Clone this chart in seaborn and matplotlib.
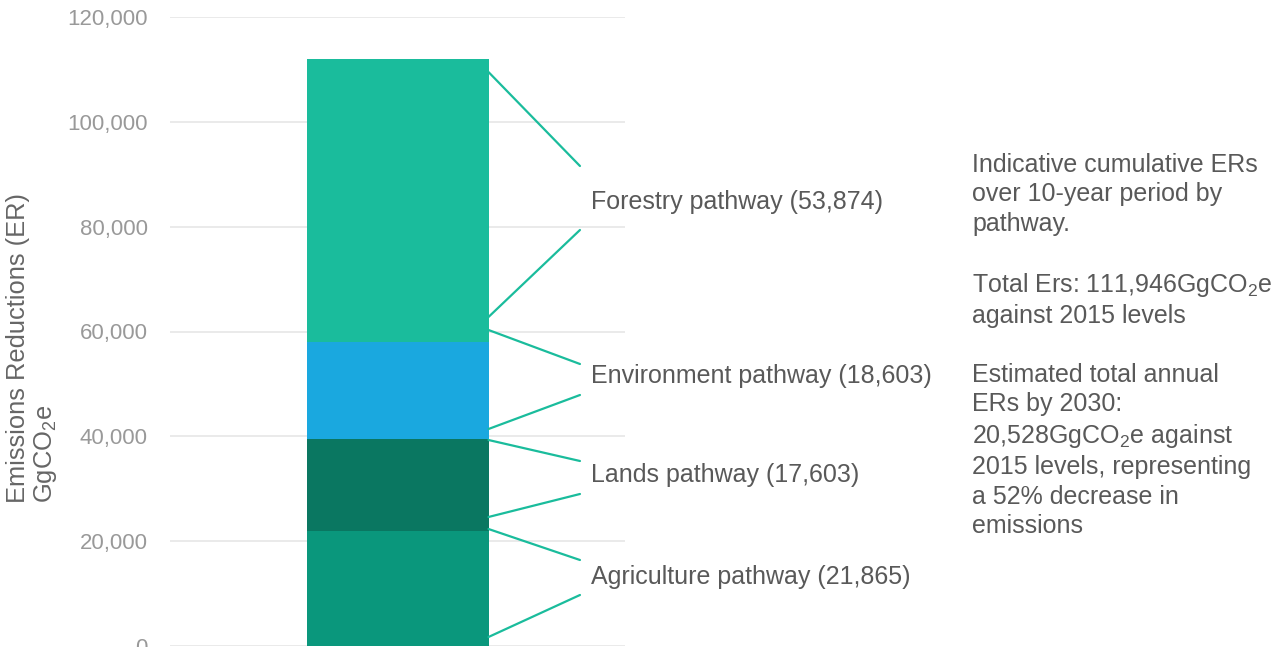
import matplotlib
matplotlib.use("Agg")
import matplotlib.pyplot as plt
import seaborn as sns
import pandas as pd

# ---- data ----
pathways = ["Agriculture pathway", "Lands pathway", "Environment pathway", "Forestry pathway"]
values = [21865, 17603, 18603, 53874]
colors = ["#0A977C", "#0A7761", "#1AA8DF", "#1ABC9C"]
y_ticks = [0, 20000, 40000, 60000, 80000, 100000, 120000]
y_ticklabels = ["0", "20,000", "40,000", "60,000", "80,000", "100,000", "120,000"]
side_text = ("Indicative cumulative ERs\nover 10-year period by\npathway.\n\n"
             "Total Ers: 111,946GgCO$_2$e\nagainst 2015 levels\n\n"
             "Estimated total annual\nERs by 2030:\n20,528GgCO$_2$e against\n"
             "2015 levels, representing\na 52% decrease in\nemissions")

# ---- layout (annotation positions in data units) ----
label_y = [13164, 32623, 51510, 84706]
conn_bar_top = [22321, 39300, 60287, 109500]
conn_lab_top = [16407, 35294, 53800, 91575]
conn_lab_bot = [9730, 29000, 47886, 79365]
conn_bar_bot = [1717, 24611, 41400, 62767]

sns.set_theme(style="white")
plt.rcParams["font.family"] = ["Liberation Sans", "DejaVu Sans"]
plt.rcParams["mathtext.default"] = "regular"

W, H = 1277, 647
fig = plt.figure(figsize=(W / 100, H / 100), dpi=100)
ax = fig.add_axes([170 / W, 1 / H, 455 / W, 629 / H])

# cumulative tops, draw largest first so smaller overlays on top
cum = []
s = 0
for v in values:
    s += v
    cum.append(s)

for i in reversed(range(len(values))):
    df = pd.DataFrame({"cat": ["Total"], "val": [cum[i]]})
    sns.barplot(data=df, x="cat", y="val", color=colors[i], width=0.4,
                saturation=1, ax=ax, zorder=2, linewidth=0, edgecolor="none")

ax.set_xlim(-0.5, 0.5)
ax.set_ylim(0, 120000)
ax.set_yticks(y_ticks)
ax.set_yticklabels(y_ticklabels, fontsize=16, color="#999999")
ax.tick_params(axis="y", length=0, pad=16)
ax.set_xticks([])
ax.set_xlabel("")
ax.set_ylabel("")
for sp in ax.spines.values():
    sp.set_visible(False)
ax.yaxis.grid(True, color="#E6E6E6", linewidth=1.2, zorder=0)
ax.set_axisbelow(True)

bar_edge = 0.2
lab_x = 0.401
txt_x = 0.425
line_col = "#1ABC9C"
for i in range(len(values)):
    ax.plot([bar_edge, lab_x], [conn_bar_top[i], conn_lab_top[i]], color=line_col,
            lw=1.6, clip_on=False, zorder=3)
    ax.plot([lab_x, bar_edge], [conn_lab_bot[i], conn_bar_bot[i]], color=line_col,
            lw=1.6, clip_on=False, zorder=3)
    ax.text(txt_x, label_y[i], f"{pathways[i]} ({values[i]:,})", fontsize=18,
            color="#595959", ha="left", va="center", clip_on=False)

fig.text(6 / W, 1 - 503 / H, "Emissions Reductions (ER)\nGgCO$_2$e", rotation=90,
         ha="left", va="bottom", multialignment="left", fontsize=18.4,
         color="#666666", linespacing=1.1)

fig.text(972 / W, 1 - 153 / H, side_text, ha="left", va="top", fontsize=18,
         color="#595959", linespacing=1.28)

fig.savefig("out.png", dpi=100)
